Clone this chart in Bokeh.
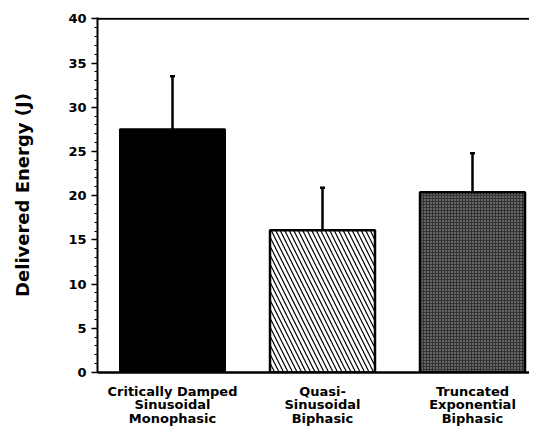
from bokeh.plotting import figure
from bokeh.models import ColumnDataSource, Whisker, TeeHead, SingleIntervalTicker, FixedTicker, Range1d, Span
from bokeh.embed import file_html
from bokeh.resources import INLINE

categories = ["Critically Damped\nSinusoidal\nMonophasic", "Quasi-\nSinusoidal\nBiphasic", "Truncated\nExponential\nBiphasic"]
positions = [1, 2, 3]
energy = [27.5, 16.1, 20.4]
err_top = [33.5, 20.9, 24.8]

FONT = "DejaVu Sans"

p = figure(width=529, height=429, output_backend="svg", toolbar_location=None,
           x_range=Range1d(0.5, 3.38), y_range=Range1d(0, 40.15),
           min_border_left=97, min_border_right=0, min_border_top=17, min_border_bottom=50)
p.outline_line_color = None
p.xgrid.grid_line_color = None
p.ygrid.grid_line_color = None

src = ColumnDataSource(dict(x=positions, top=energy, up=err_top))

# bar 1 solid black
p.vbar(x=[positions[0]], top=[energy[0]], width=0.7, fill_color="black", line_color="black", line_width=2)
# bar 2 hatched
p.vbar(x=[positions[1]], top=[energy[1]], width=0.7, fill_color="white", line_color="black", line_width=2.5,
       hatch_pattern="\\", hatch_color="black", hatch_scale=9, hatch_weight=1.2)
# bar 3 stippled grey
p.vbar(x=[positions[2]], top=[energy[2]], width=0.7, fill_color="#333333", line_color="black", line_width=2.5,
       hatch_pattern="dot", hatch_color="#cfcfcf", hatch_scale=3, hatch_weight=1, hatch_alpha=0.8)

w = Whisker(source=src, base="x", lower="top", upper="up", dimension="height",
            line_color="black", line_width=2.5,
            upper_head=TeeHead(size=5, line_width=2.5, line_color="black"), lower_head=None)
p.add_layout(w)

# top border line at 40
p.add_layout(Span(location=40, dimension="width", line_color="black", line_width=2))

# y axis
ya = p.yaxis[0]
ya.ticker = SingleIntervalTicker(interval=5, num_minor_ticks=5)
ya.axis_label = "Delivered Energy (J)"
ya.axis_label_text_font = FONT
ya.axis_label_text_font_style = "bold"
ya.axis_label_text_font_size = "18px"
ya.axis_label_text_color = "black"
ya.axis_label_standoff = 32
ya.major_label_text_font = FONT
ya.major_label_text_font_style = "bold"
ya.major_label_text_font_size = "13px"
ya.major_label_text_color = "black"
ya.axis_line_width = 2
ya.major_tick_line_width = 1.5
ya.major_tick_out = 6
ya.major_tick_in = 0
ya.minor_tick_out = 3
ya.minor_tick_in = 0
ya.minor_tick_line_width = 1

# x axis
xa = p.xaxis[0]
xa.ticker = FixedTicker(ticks=positions)
xa.major_label_overrides = {pos: lab for pos, lab in zip(positions, categories)}
xa.major_label_text_font = FONT
xa.major_label_text_font_style = "bold"
xa.major_label_text_font_size = "13px"
xa.major_label_text_color = "black"
xa.major_label_text_line_height = 0.92
xa.major_tick_line_color = None
xa.minor_tick_line_color = None
xa.major_label_standoff = 5
xa.axis_line_width = 2.5

open("out.html", "w").write(file_html(p, INLINE))
